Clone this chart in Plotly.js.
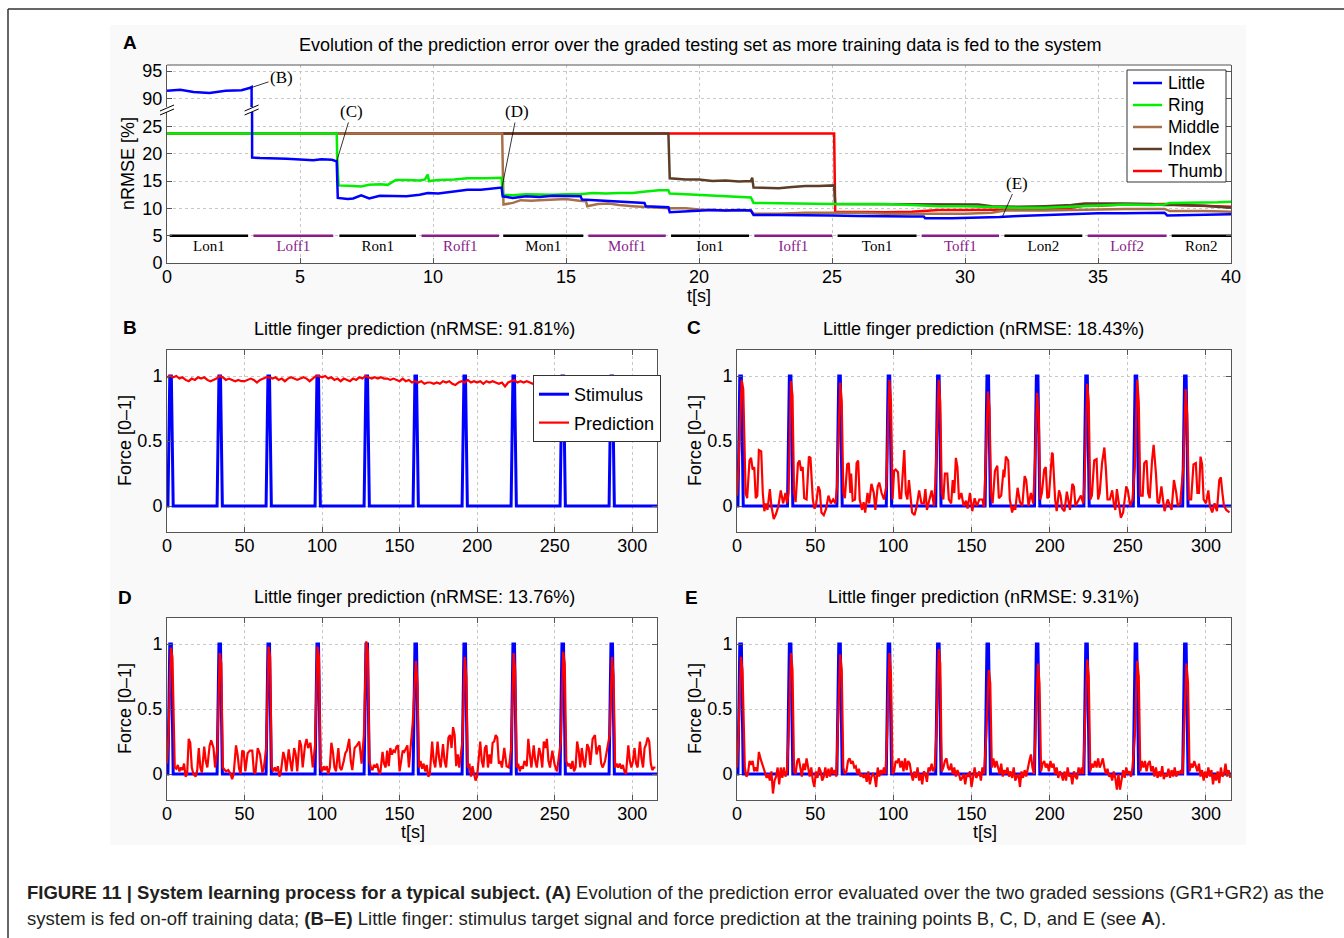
<!DOCTYPE html>
<html>
<head>
<meta charset="utf-8">
<script src="https://cdn.plot.ly/plotly-3.0.1.min.js"></script>
<style>html,body{margin:0;padding:0;background:#fff;}#chart{width:1344px;height:938px;}</style>
</head>
<body>
<div id="chart"></div>
<script>
// ---------- Panel A data: nRMSE [%] vs t[s] ----------
const littleA = [[0,91.4],[0.5,91.6],[1.0,91.2],[1.6,91.0],[2.2,91.4],[2.8,91.5],[3.1,91.9],[3.18,92.1],[3.2,19.3],[3.5,19.2],[4.5,19.1],[5.0,19.0],[5.5,18.8],[5.8,19.0],[6.2,18.9],[6.38,18.6],[6.42,11.9],[6.8,11.7],[7.0,11.8],[7.3,12.4],[7.6,11.8],[8.0,12.3],[8.5,12.2],[9.0,12.2],[9.5,12.5],[9.8,12.8],[10.2,12.7],[10.8,13.1],[11.3,13.4],[11.8,13.4],[12.3,13.6],[12.58,13.8],[12.62,12.2],[13,11.9],[13.5,12.2],[14,12.1],[14.5,12.3],[15,12.2],[15.55,12.2],[15.6,11.6],[16.5,11.4],[17.3,11.2],[17.95,11.0],[18.0,10.4],[18.5,10.3],[18.85,10.2],[18.9,9.3],[19.5,9.4],[20,9.6],[20.5,9.7],[21,9.6],[21.5,9.7],[21.95,9.6],[22.05,8.8],[23,8.8],[24,8.8],[25,8.7],[26,8.6],[27,8.5],[28,8.5],[28.45,8.5],[28.5,8.2],[29.5,8.2],[30.5,8.3],[31.3,8.4],[32,8.6],[33,8.8],[34,9.0],[35,9.1],[36,9.1],[37.5,9.2],[37.6,8.7],[38.5,8.8],[40,8.9]];
const ringA = [[0,23.7],[6.38,23.7],[6.40,19.0],[6.45,14.2],[7,14.1],[7.3,14.0],[7.6,14.3],[8.0,14.4],[8.3,14.3],[8.6,15.2],[9,15.2],[9.5,15.1],[9.7,15.3],[9.8,16.2],[9.85,15.0],[10.2,15.2],[10.8,15.3],[11.3,15.5],[12,15.5],[12.58,15.6],[12.62,12.5],[13,12.4],[13.5,12.6],[14,12.5],[14.5,12.5],[15,12.6],[15.5,12.6],[16,12.8],[16.5,12.7],[17,12.8],[17.5,12.8],[18,13.1],[18.5,13.3],[18.85,13.3],[18.9,12.7],[19.5,12.6],[20,12.5],[20.5,12.3],[21,12.2],[21.5,12.1],[21.95,12.0],[22.05,11.0],[23,10.9],[24,10.9],[25,10.8],[26,10.8],[27,10.8],[28,10.6],[29,10.4],[30,10.4],[31,10.2],[32,10.1],[33,10.1],[34,10.3],[35,10.6],[36,10.7],[37,10.6],[37.5,10.7],[37.7,11.0],[38.5,11.0],[39.5,11.1],[40,11.2]];
const middleA = [[0,23.7],[12.6,23.7],[12.65,10.7],[13.0,11.0],[13.3,11.5],[13.7,11.4],[14,11.5],[14.5,11.6],[15,11.7],[15.5,11.4],[15.75,11.3],[15.8,10.4],[16.2,10.8],[16.6,10.9],[17,10.6],[17.5,10.4],[18,10.2],[18.5,10.1],[18.9,10.0],[19.5,10.0],[20,9.8],[20.5,9.7],[21,9.6],[21.95,9.6],[22.05,9.0],[23,9.0],[24,9.2],[25,9.2],[26,9.2],[27,9.0],[28,9.0],[29,9.0],[30,9.0],[31,9.2],[31.5,9.6],[33,9.6],[34,9.7],[35,9.8],[36,9.9],[37.5,9.9],[37.7,9.5],[39,9.5],[40,9.4]];
const indexA = [[0,23.7],[18.85,23.7],[18.9,15.5],[19.5,15.3],[20,15.3],[20.5,15.0],[21,15.1],[21.5,14.9],[21.95,15.0],[22.0,15.6],[22.05,13.8],[22.5,13.7],[23,13.7],[23.5,13.9],[24,14.1],[24.5,14.1],[25.08,14.2],[25.12,10.8],[26,10.8],[27,10.7],[28,10.7],[28.5,10.7],[29,10.8],[30,10.8],[30.5,10.7],[31,10.4],[32,10.3],[33,10.4],[34,10.6],[34.5,10.9],[35,10.9],[35.5,11.0],[36,10.9],[37,10.8],[37.5,10.6],[38,10.6],[39,10.5],[40,10.1]];
const thumbA = [[0,23.7],[25.08,23.7],[25.12,9.4],[26,9.3],[27,9.3],[28,9.4],[28.5,9.6],[29,9.7],[30,9.7],[31,9.7],[32,9.8],[33,9.9],[34,10.1],[34.5,10.5],[35,10.5],[36,10.7],[37,10.8],[37.5,10.8],[38,10.6],[39,10.5],[40,10.3]];
const fingerNames = ['Little','Ring','Middle','Index','Thumb'];

// training session segments (start, end, label)
const segStart = [0.1, 3.25, 6.48, 9.57, 12.64, 15.84, 18.95, 22.08, 25.21, 28.37, 31.48, 34.61, 37.77];
const segEnd   = [3.05, 6.25, 9.36, 12.48, 15.65, 18.75, 21.88, 25.01, 28.18, 31.28, 34.41, 37.58, 40];
const segLabels = ['Lon1','Loff1','Ron1','Roff1','Mon1','Moff1','Ion1','Ioff1','Ton1','Toff1','Lon2','Loff2','Ron2'];
const segLevel = 5;
const segLabelLevel = 2.9;

// training points marked on panel A: [label, t, nRMSE, axis]
const markers = [['(B)',3.18,92.0,'y2'],['(C)',6.38,18.6,'y'],['(D)',12.6,14.0,'y'],['(E)',31.4,8.4,'y']];

// ---------- Panels B–E data: Force [0–1] vs t[s] ----------
const stimulus = [[0,0],[0.6,0],[1.8,1],[2.8,1],[4.0,0],[32.3,0],[33.5,1],[34.5,1],[35.7,0],[63.9,0],[65.1,1],[66.1,1],[67.3,0],[95.5,0],[96.7,1],[97.7,1],[98.9,0],[127.1,0],[128.3,1],[129.3,1],[130.5,0],[158.7,0],[159.9,1],[160.9,1],[162.1,0],[190.3,0],[191.5,1],[192.5,1],[193.7,0],[221.9,0],[223.1,1],[224.1,1],[225.3,0],[253.5,0],[254.7,1],[255.7,1],[256.9,0],[285.1,0],[286.3,1],[287.3,1],[288.5,0],[316,0]];

const predB = [[0,0.99],[2,1.0],[4,0.99],[6,1.0],[8,0.98],[10,0.99],[12,0.97],[14,0.96],[16,0.98],[18,0.97],[20,0.99],[22,0.98],[24,0.99],[26,0.97],[28,0.96],[30,0.97],[32,0.98],[34,1.0],[36,0.99],[38,0.97],[40,0.98],[42,0.97],[44,0.96],[46,0.97],[48,0.96],[50,0.96],[52,0.97],[54,0.98],[56,0.97],[58,0.95],[60,0.97],[62,0.98],[64,0.99],[66,0.99],[68,0.98],[70,0.99],[72,0.97],[74,0.98],[76,0.96],[78,0.98],[80,0.99],[82,0.98],[84,0.97],[86,0.98],[88,0.99],[90,0.98],[92,0.96],[94,0.98],[96,1.0],[98,1.0],[100,0.99],[102,1.0],[104,0.98],[106,0.99],[108,0.97],[110,0.98],[112,0.96],[114,0.98],[116,0.97],[118,0.96],[120,0.98],[122,0.97],[124,0.99],[126,0.98],[128,1.0],[130,0.99],[132,0.98],[134,0.99],[136,0.98],[138,0.99],[140,0.98],[142,0.98],[144,0.97],[146,0.98],[148,0.97],[150,0.96],[152,0.98],[154,0.96],[156,0.97],[158,0.95],[160,0.96],[162,0.95],[164,0.96],[166,0.94],[168,0.95],[170,0.95],[172,0.94],[174,0.95],[176,0.94],[178,0.96],[180,0.95],[182,0.96],[184,0.94],[186,0.93],[188,0.95],[190,0.96],[192,0.95],[194,0.97],[196,0.95],[198,0.96],[200,0.95],[202,0.96],[204,0.94],[206,0.96],[208,0.95],[210,0.96],[212,0.95],[214,0.94],[216,0.95],[218,0.92],[220,0.95],[222,0.96],[224,0.97],[226,0.95],[228,0.96],[230,0.95],[232,0.96],[234,0.95],[236,0.94],[240,0.95],[250,0.94],[260,0.95],[270,0.94],[280,0.95],[290,0.94],[300,0.95],[310,0.94],[316,0.95]];

const predC = [[0,0.08],[1,0.3],[3,0.97],[4,0.9],[5.5,0.1],[6.5,0.06],[8,0.35],[9,0.37],[10,0.28],[11,0.3],[12,0.06],[13,0.08],[14,0.43],[15.5,0.42],[16.5,0.1],[17.5,-0.04],[18.5,0.02],[19.5,-0.03],[21,0.13],[22,0.0],[23.5,-0.1],[25,-0.06],[26.5,0.0],[28,0.12],[29.5,0.02],[31,0.1],[32,0.02],
[33,0.1],[34.5,0.96],[35.5,0.85],[36.5,0.1],[37.5,0.03],[39,0.33],[40,0.35],[41,0.27],[42,0.3],[43,0.06],[44.5,0.05],[46,0.38],[47,0.37],[48.5,0.05],[49.5,-0.02],[50.5,0.0],[52,0.15],[53,0.12],[54,-0.05],[55.5,-0.07],[57,-0.02],[58.5,0.08],[60,0.02],[61.5,0.05],[63,0.02],
[64,0.15],[66,0.95],[67,0.8],[68,0.1],[69,0.06],[70.5,0.32],[71.5,0.33],[72.5,0.1],[73,0.25],[74,0.04],[75.5,0.05],[76.5,0.33],[77.5,0.35],[78.5,0.05],[80,-0.03],[81,0.03],[82,-0.05],[83.5,0.1],[84.5,0.02],[86,0.17],[87.5,0.1],[88.5,-0.03],[90,0.15],[91,0.18],[92.5,0.1],[94,0.05],
[95.5,0.15],[97.5,0.97],[98.5,0.8],[99.5,0.05],[100.5,0.27],[101.5,0.28],[103,0.26],[104,0.06],[105,0.06],[106.5,0.38],[107,0.43],[108,0.1],[109,0.05],[110,0.2],[111,0.08],[112,-0.05],[113.5,-0.07],[115,0.0],[116.5,0.12],[118,0.02],[119.5,0.02],[120.5,0.13],[121.5,-0.03],[123,0.05],[124.5,0.12],[126,0.0],
[127,0.2],[129,0.97],[130,0.8],[131,0.1],[132,0.05],[133,0.25],[134.5,0.25],[135.5,0.05],[137,0.02],[138,0.2],[139,0.1],[140,0.37],[141,0.3],[142,0.05],[143.5,0.1],[145,0.0],[146.5,0.04],[147.5,-0.02],[149,0.1],[150.5,-0.04],[152,0.06],[153.5,0.0],[155,0.05],[157,0.05],[158,-0.01],
[159,0.3],[160.5,0.88],[161.5,0.75],[162.5,0.1],[163.5,0.02],[165,0.27],[166.5,0.31],[167.5,0.06],[169,0.08],[170.5,0.28],[171,0.22],[172,0.38],[173.5,0.35],[174.5,0.05],[176,-0.05],[177,0.0],[178,-0.03],[179.5,0.14],[181,0.03],[182.5,0.0],[184,0.23],[185,0.2],[186.5,0.0],[188,0.1],[189.5,0.02],
[190.5,0.3],[192,0.87],[193,0.7],[194,0.05],[195,0.1],[196.5,0.28],[197.5,0.3],[198.5,0.06],[199.5,0.07],[201.5,0.41],[202,0.4],[203.5,0.05],[204.5,-0.04],[206,0.12],[207,0.08],[208,-0.02],[209.5,-0.04],[211,0.11],[212,0.02],[213,-0.03],[214.5,0.17],[215.5,0.15],[216.5,0.0],[218.5,0.05],[220,0.08],[221.5,0.02],
[222.5,0.25],[224,0.94],[225,0.8],[226,0.05],[227,0.08],[228.5,0.35],[230,0.36],[231,0.05],[232,0.1],[233.5,0.33],[235,0.45],[236,0.28],[237,0.05],[238.5,0.05],[240,0.12],[241,0.02],[242,-0.03],[243,0.13],[244.5,0.0],[245.5,-0.09],[247,-0.05],[249,0.15],[250,0.12],[251.5,0.0],[253,0.05],
[254.5,0.3],[256,0.97],[257,0.8],[258,0.08],[259.5,0.08],[260.5,0.33],[262,0.35],[263,0.1],[264,0.06],[265.5,0.35],[266.5,0.47],[268,0.25],[269,0.03],[270,0.02],[271.5,0.15],[272.5,0.05],[273.5,-0.04],[275.5,0.05],[277,0.0],[278,-0.03],[279.5,0.2],[281,0.1],[282,0.0],[283.5,0.02],
[285.5,0.3],[287,0.9],[288,0.7],[289,0.05],[290.5,0.05],[292,0.32],[293.5,0.33],[294.5,0.1],[295.5,0.1],[296.5,0.38],[297.5,0.32],[298.5,0.05],[300,0.02],[301.5,0.12],[302.5,0.0],[304,-0.05],[305.5,0.02],[307,-0.04],[308.5,0.2],[309.5,0.22],[310.5,0.1],[311.5,0.0],[313,-0.03],[315,-0.05]];

const predD = [[0,0.08],[1,0.3],[2.5,0.97],[3.5,0.9],[5,0.05],[6,0.04],[7,0.07],[8,0.02],[9,0.05],[10,0.03],[11,0.08],[12,-0.02],[13,0.0],[14,0.27],[15,0.24],[16,0.05],[17,0.0],[18.5,-0.02],[19.5,0.03],[20.5,0.2],[21.5,0.05],[22.5,0.01],[24,0.21],[25,0.1],[26,0.05],[27.5,0.22],[28.5,0.26],[30,0.2],[31,0.05],
[32.5,0.2],[34,0.93],[35,0.85],[36,0.05],[37,0.03],[38,0.02],[39.5,0.03],[41,0.0],[42,-0.04],[43,0.0],[44.5,0.22],[45.5,0.15],[46.5,0.04],[47.5,0.0],[48.5,0.18],[49.5,0.17],[50.5,0.02],[52,0.16],[53.5,0.18],[55,0.18],[56,0.02],[57,0.0],[58.5,0.2],[60,0.15],[61.5,0.01],[62.5,0.05],
[64,0.2],[65.5,0.98],[66.5,0.9],[67.5,0.05],[68.5,0.02],[69.5,0.05],[70.5,0.02],[71.5,0.06],[72.5,-0.02],[73.5,0.02],[75,0.17],[76,0.12],[77,0.02],[78.5,0.19],[79.5,0.1],[80.5,0.02],[82,0.2],[83,0.15],[84,0.02],[85.5,0.26],[86.5,0.22],[87.5,0.05],[89,0.22],[90,0.27],[91,0.2],[92.5,0.24],[94,0.05],
[95.5,0.22],[97,0.98],[98,0.9],[99,0.05],[100,0.02],[101,0.06],[102,0.03],[103,0.06],[104,0.0],[105,0.05],[106,0.24],[107,0.17],[108,0.05],[109,0.02],[110.5,0.2],[111.5,0.05],[112.5,0.03],[114,0.1],[115,0.16],[116,0.18],[117.5,0.27],[118.5,0.1],[119.5,0.03],[121,0.2],[122.5,0.22],[124,0.25],[125.5,0.08],
[127,0.3],[128.5,1.02],[129.5,0.95],[130.5,0.1],[131.5,0.05],[132.5,0.03],[133.5,0.07],[134.5,0.05],[135.5,0.08],[136.5,0.02],[137.5,0.0],[139,0.17],[140,0.08],[141,0.05],[142,0.18],[143,0.06],[144,0.2],[145,0.15],[146,0.18],[147,0.17],[148,0.21],[149,0.22],[150,0.02],[151,0.1],[152,0.18],[153,0.17],[154,0.2],[155,0.22],[156,0.05],[157,0.2],
[158.5,0.4],[160.5,0.87],[161.5,0.7],[162.5,0.05],[163.5,0.1],[164.5,0.04],[165.5,0.08],[166.5,0.02],[167.5,0.07],[168.5,-0.02],[169.5,0.0],[171,0.25],[172,0.1],[173,0.05],[174.5,0.25],[175.5,0.12],[176.5,0.05],[178,0.23],[179,0.1],[180,0.05],[181.5,0.28],[182.5,0.3],[183.5,0.2],[184.5,0.36],[185.5,0.3],[186.5,0.06],[187.5,0.15],[188.5,0.05],
[190.5,0.25],[192,0.9],[193,0.75],[194,0.05],[195,0.08],[196,-0.02],[197,0.06],[198,0.0],[199,-0.05],[200,-0.02],[201,0.1],[202,0.25],[203,0.1],[204,0.05],[205,0.2],[206,0.22],[207,0.05],[208,0.15],[209,0.08],[210,0.24],[211,0.25],[212,0.3],[213,0.28],[214,0.08],[215,0.1],[216,0.05],[217.5,0.2],[219,0.06],[220.5,0.05],
[222,0.2],[223.5,0.93],[224.5,0.8],[225.5,0.05],[226.5,0.08],[227.5,0.02],[228.5,0.06],[229.5,0.04],[230.5,0.1],[232,0.06],[233,0.27],[234,0.15],[235,0.05],[236.5,0.22],[237.5,0.1],[238.5,0.05],[240,0.2],[241,0.15],[242,0.05],[243,0.25],[244,0.2],[245,0.27],[246,0.1],[247,0.05],[248.5,0.18],[250,0.07],[251.5,0.02],
[254,0.25],[255.5,0.94],[256.5,0.85],[257.5,0.1],[258.5,0.06],[259.5,0.08],[260.5,0.04],[261.5,0.1],[262.5,0.02],[263.5,0.05],[264.5,0.25],[265.5,0.18],[266.5,0.05],[267.5,0.2],[268.5,0.1],[269.5,0.05],[271,0.23],[272,0.2],[273,0.07],[274.5,0.27],[276,0.3],[277,0.15],[278,0.2],[279,0.22],[280,0.08],[281,0.05],[282.5,0.1],
[285.5,0.3],[287,0.9],[288,0.75],[289,0.05],[290,0.08],[291,0.05],[292,0.08],[293,0.04],[294,0.07],[295,0.02],[296,0.0],[297.5,0.22],[298.5,0.1],[299.5,0.05],[300.5,0.1],[301.5,0.2],[302.5,0.08],[303.5,0.05],[305,0.25],[306,0.12],[307,0.05],[308,0.2],[309,0.23],[310,0.28],[311,0.25],[312,0.08],[313,0.03],[314,0.05],[315,0.05]];

const predE = [[0,0.05],[1,0.3],[2.5,0.9],[3.5,0.8],[5,0.05],[6,-0.02],[7,0.0],[8,0.1],[9,0.08],[10,0.1],[11,0.02],[12,0.05],[13,0.02],[14,0.17],[15,0.12],[16,0.08],[17,0.05],[18,0.0],[19,-0.03],[20,0.0],[21,-0.05],[22,0.02],[23,-0.15],[24,-0.05],[25,-0.02],[26,0.05],[27,-0.08],[28,0.05],[29,-0.03],[30,0.05],[31,-0.02],[32,0.02],
[33,0.3],[34.5,0.93],[35.5,0.8],[36.5,0.02],[37.5,0.0],[38.5,0.1],[39.5,0.12],[40.5,0.05],[41.5,-0.02],[42.5,0.08],[43.5,0.03],[44.5,0.12],[45.5,0.04],[46.5,-0.02],[47.5,0.05],[48.5,-0.05],[49.5,-0.1],[50.5,0.02],[51.5,-0.03],[52.5,0.05],[53.5,0.02],[54.5,-0.05],[55.5,-0.02],[56.5,0.05],[57.5,-0.03],[58.5,0.04],[59.5,-0.02],[60.5,0.05],[61.5,0.0],[62.5,0.03],[63.5,-0.02],
[64.5,0.3],[66,0.92],[67,0.8],[68,0.05],[69,0.0],[70,0.02],[71,0.1],[72,0.12],[73,0.08],[74,0.1],[75,0.05],[76,0.06],[77,0.0],[78,0.04],[79,-0.02],[80,0.0],[81,-0.03],[82,0.0],[83,-0.06],[84,0.02],[85,-0.08],[86,-0.02],[87,0.0],[88,-0.02],[89,-0.1],[90,0.05],[91,-0.02],[92,0.03],[93,0.0],[94,0.05],[95,0.0],
[96,0.3],[97.5,0.93],[98.5,0.75],[99.5,0.0],[100.5,0.02],[101.5,0.1],[102.5,0.09],[103.5,0.12],[104.5,0.05],[105.5,0.1],[106.5,0.02],[107.5,0.12],[108.5,0.03],[109.5,0.1],[110.5,0.08],[111.5,0.0],[112.5,-0.05],[113.5,0.02],[114.5,-0.03],[115.5,0.05],[116.5,-0.05],[117.5,0.0],[118.5,-0.08],[119.5,0.02],[120.5,0.0],[121.5,-0.06],[122.5,0.05],[123.5,0.02],[124.5,0.08],[125.5,0.02],[126.5,0.05],
[127.5,0.3],[129,0.96],[130,0.85],[131,0.02],[132,0.05],[133,0.1],[134,0.12],[135,0.05],[136,0.03],[137,0.08],[138,0.0],[139,0.05],[140,-0.02],[141,0.03],[142,0.0],[143,-0.05],[144,-0.03],[145,0.0],[146,-0.08],[147,0.0],[148,-0.02],[149,0.02],[150,-0.1],[151,-0.02],[152,0.05],[153,-0.03],[154,0.0],[155,0.02],[156,-0.05],[157,0.05],[158,0.0],
[159.5,0.3],[161,0.8],[162,0.7],[163,0.05],[164,0.12],[165,0.05],[166,0.1],[167,0.05],[168,0.0],[169,0.08],[170,-0.02],[171,0.03],[172,0.0],[173,0.05],[174,-0.02],[175,0.02],[176,-0.03],[177,0.05],[178,-0.05],[179,-0.02],[180,0.0],[181,-0.1],[182,0.02],[183,-0.03],[184,0.03],[185,-0.02],[186,0.05],[187,0.1],[188,0.15],[189,0.05],[190,0.0],
[191,0.3],[192.5,0.85],[193.5,0.7],[194.5,0.02],[195.5,0.08],[196.5,0.1],[197.5,0.05],[198.5,0.08],[199.5,0.02],[200.5,0.1],[201.5,0.05],[202.5,0.08],[203.5,0.0],[204.5,0.05],[205.5,-0.03],[206.5,0.02],[207.5,0.0],[208.5,-0.05],[209.5,0.02],[210.5,-0.05],[211.5,0.05],[212.5,-0.02],[213.5,0.0],[214.5,-0.08],[215.5,0.02],[216.5,-0.02],[217.5,-0.04],[218.5,0.05],[219.5,0.0],[220.5,0.05],[221.5,0.0],
[222.5,0.3],[224,0.88],[225,0.75],[226,0.02],[227,0.08],[228,0.05],[229,0.1],[230,0.05],[231,0.12],[232,0.05],[233,0.08],[234,0.12],[235,0.05],[236,0.0],[237,0.04],[238,-0.02],[239,0.0],[240,-0.05],[241,0.02],[242,-0.03],[243,-0.12],[244,0.0],[245,-0.12],[246,-0.05],[247,0.03],[248,-0.03],[249,0.05],[250,0.0],[251,0.02],[252,-0.02],[253,0.05],
[254.5,0.3],[256,0.87],[257,0.75],[258,0.02],[259,0.1],[260,0.05],[261,0.1],[262,0.02],[263,0.08],[264,0.1],[265,0.02],[266,0.06],[267,-0.02],[268,0.05],[269,-0.03],[270,0.02],[271,-0.02],[272,0.06],[273,-0.04],[274,0.0],[275,-0.02],[276,0.04],[277,-0.03],[278,0.03],[279,-0.02],[280,0.05],[281,-0.02],[282,0.02],[283,0.0],[284,0.03],[285,0.0],
[286,0.3],[287.5,0.85],[288.5,0.7],[289.5,0.02],[290.5,0.08],[291.5,0.05],[292.5,0.1],[293.5,0.05],[294.5,0.02],[295.5,0.08],[296.5,-0.02],[297.5,0.03],[298.5,-0.05],[299.5,0.02],[300.5,-0.03],[301.5,0.05],[302.5,-0.02],[303.5,0.03],[304.5,-0.08],[305.5,0.0],[306.5,-0.05],[307.5,0.02],[308.5,-0.07],[309.5,0.05],[310.5,-0.02],[311.5,0.0],[312.5,0.08],[313.5,-0.02],[314.5,0.03],[315.5,-0.03]];

const panelTitles = ['Little finger prediction (nRMSE: 91.81%)','Little finger prediction (nRMSE: 18.43%)','Little finger prediction (nRMSE: 13.76%)','Little finger prediction (nRMSE: 9.31%)'];
const titleA = 'Evolution of the prediction error over the graded testing set as more training data is fed to the system';

// ---------- styling & layout helpers ----------
const W = 1344, H = 938;
const px = v => v / W;
const py = v => 1 - v / H;
const SANS = 'Liberation Sans, Arial, Helvetica, sans-serif';
const SERIF = 'Liberation Serif, Times New Roman, serif';
const FINGER_COLORS = { Little: '#0000FF', Ring: '#00EE00', Middle: '#A8704A', Index: '#5C3D28', Thumb: '#FF0000' };
const C_PURPLE = '#8B1A8B';
const xs = a => a.map(p => p[0]);
const ys = a => a.map(p => p[1]);

const AX = { left: px(167), right: px(1231), bottom: py(263), junction: py(110), top: py(65) };
const BX = [px(167), px(657)], CX = [px(737), px(1231)];
const BCY = [py(532), py(350)], DEY = [py(800), py(618)];

const FS = 18;
const tickFont = { family: SANS, size: FS, color: '#000' };
const gridStyle = { showgrid: true, gridcolor: '#c8c8c8', griddash: 'dot', gridwidth: 1 };
const axBase = Object.assign({ ticks: 'inside', ticklen: 5, tickcolor: '#555', showline: true, linecolor: '#555', linewidth: 1, zeroline: false, tickfont: tickFont, fixedrange: true }, gridStyle);

// ---------- traces ----------
const traces = [];
const seriesA = { Little: littleA, Ring: ringA, Middle: middleA, Index: indexA, Thumb: thumbA };
const lineA = (name, yax) => ({ type: 'scatter', mode: 'lines', name: name, x: xs(seriesA[name]), y: ys(seriesA[name]), xaxis: 'x', yaxis: yax, line: { color: FINGER_COLORS[name], width: 2.5 }, showlegend: false, hoverinfo: 'skip' });
fingerNames.slice().reverse().forEach(n => traces.push(lineA(n, 'y')));
traces.push(lineA('Little', 'y2'));

// session bars
const isOff = l => l.indexOf('off') >= 0;
function segTrace(off) {
  const x = [], y = [];
  segLabels.forEach((l, i) => { if (isOff(l) === off) { x.push(segStart[i], segEnd[i], null); y.push(segLevel, segLevel, null); } });
  return { type: 'scatter', mode: 'lines', x: x, y: y, xaxis: 'x', yaxis: 'y', line: { color: off ? C_PURPLE : '#000', width: 2.5 }, showlegend: false, hoverinfo: 'skip' };
}
traces.push(segTrace(false));
traces.push(segTrace(true));
traces.push({ type: 'scatter', mode: 'text', x: segLabels.map((l, i) => (segStart[i] + segEnd[i]) / 2), y: segLabels.map(() => segLabelLevel), text: segLabels,
  textfont: { family: SERIF, size: 15, color: segLabels.map(l => isOff(l) ? C_PURPLE : '#000') }, xaxis: 'x', yaxis: 'y', showlegend: false, cliponaxis: false, hoverinfo: 'skip' });

// panels B–E
const panels = [
  { xa: 'x2', ya: 'y3', pred: predB, legend: true },
  { xa: 'x3', ya: 'y4', pred: predC },
  { xa: 'x4', ya: 'y5', pred: predD },
  { xa: 'x5', ya: 'y6', pred: predE }
];
panels.forEach(p => {
  traces.push({ type: 'scatter', mode: 'lines', name: 'Stimulus', x: xs(stimulus), y: ys(stimulus), xaxis: p.xa, yaxis: p.ya, line: { color: FINGER_COLORS.Little, width: 3 }, showlegend: !!p.legend, legend: 'legend', legendgroup: 'stim', hoverinfo: 'skip' });
  traces.push({ type: 'scatter', mode: 'lines', name: 'Prediction', x: xs(p.pred), y: ys(p.pred), xaxis: p.xa, yaxis: p.ya, line: { color: FINGER_COLORS.Thumb, width: 2.2 }, showlegend: !!p.legend, legend: 'legend', legendgroup: 'pred', hoverinfo: 'skip' });
});

// ---------- axes ----------
const layout = {
  width: W, height: H, margin: { l: 0, r: 0, t: 0, b: 0 },
  paper_bgcolor: '#fff', plot_bgcolor: '#fff', font: { family: SANS, size: FS, color: '#000' },
  xaxis: Object.assign({}, axBase, { domain: [AX.left, AX.right], anchor: 'y', range: [0, 40], tickvals: [0,5,10,15,20,25,30,35,40], ticklabelstandoff: -3 }),
  yaxis: Object.assign({}, axBase, { domain: [AX.bottom, AX.junction], anchor: 'x', range: [0, 28.0], tickvals: [0,5,10,15,20,25], mirror: 'ticks' }),
  yaxis2: Object.assign({}, axBase, { domain: [AX.junction, AX.top], anchor: 'x', range: [87.9, 96.1], tickvals: [90,95], mirror: 'ticks' }),
  showlegend: true,
  legend: { x: px(533), y: py(375), xanchor: 'left', yanchor: 'top', traceorder: 'grouped', tracegroupgap: 2, bgcolor: '#fff', bordercolor: '#333', borderwidth: 1, font: { family: SANS, size: 18, color: '#000' }, itemwidth: 30 },
  shapes: [], annotations: []
};
const doms = [[BX, BCY], [CX, BCY], [BX, DEY], [CX, DEY]];
panels.forEach((p, i) => {
  const xk = 'xaxis' + p.xa.slice(1), yk = 'yaxis' + p.ya.slice(1);
  layout[xk] = Object.assign({}, axBase, { domain: doms[i][0], anchor: p.ya, range: [0, 316], tickvals: [0,50,100,150,200,250,300], mirror: 'ticks', ticklabelstandoff: -3 });
  layout[yk] = Object.assign({}, axBase, { domain: doms[i][1], anchor: p.xa, range: [-0.2, 1.2], tickvals: [0, 0.5, 1], ticktext: ['0','0.5','1'], mirror: 'ticks' });
});

// ---------- shapes ----------
const S = layout.shapes;
S.push({ type: 'rect', xref: 'paper', yref: 'paper', x0: px(110), x1: px(1246), y0: py(845), y1: py(25), fillcolor: '#f9f9f9', line: { width: 0 }, layer: 'below' });
S.push({ type: 'rect', xref: 'paper', yref: 'paper', x0: AX.left, x1: AX.right, y0: AX.bottom, y1: AX.top, fillcolor: '#fff', line: { width: 0 }, layer: 'below' });
doms.forEach(d => S.push({ type: 'rect', xref: 'paper', yref: 'paper', x0: d[0][0], x1: d[0][1], y0: d[1][0], y1: d[1][1], fillcolor: '#fff', line: { width: 0 }, layer: 'below' }));
S.push({ type: 'line', xref: 'paper', yref: 'paper', x0: AX.left, x1: AX.right, y0: AX.top, y1: AX.top, line: { color: '#555', width: 1 } });
S.push({ type: 'line', xref: 'paper', yref: 'paper', x0: px(8), x1: 1, y0: py(9), y1: py(9), line: { color: '#333', width: 1.5 } });
S.push({ type: 'line', xref: 'paper', yref: 'paper', x0: px(8), x1: px(8), y0: 0, y1: py(9), line: { color: '#333', width: 1.5 } });
// axis-break symbols
const breakIdx = littleA.findIndex((p, i) => i > 0 && littleA[i - 1][1] > 50 && p[1] < 50);
const breakT = littleA[breakIdx - 1][0];
function breakMark(xref, xanchor) {
  const base = { xref: xref, yref: 'paper', xsizemode: 'pixel', ysizemode: 'pixel', xanchor: xanchor, yanchor: AX.junction };
  S.push(Object.assign({ type: 'rect', x0: -3, x1: 3, y0: -2, y1: 3, fillcolor: '#fff', line: { width: 0 } }, base));
  S.push(Object.assign({ type: 'line', x0: -7, x1: 7, y0: -5, y1: 1, line: { color: '#000', width: 1 } }, base));
  S.push(Object.assign({ type: 'line', x0: -7, x1: 7, y0: -1, y1: 5, line: { color: '#000', width: 1 } }, base));
}
breakMark('paper', AX.left);
breakMark('x', breakT);

// ---------- panel A legend box (rows built from fingerNames / FINGER_COLORS) ----------
const legA = { x0: 1127, x1: 1226, y0: 70, y1: 182, row0: 83, rowH: 22 };
S.push({ type: 'rect', xref: 'paper', yref: 'paper', x0: px(legA.x0), x1: px(legA.x1), y0: py(legA.y1), y1: py(legA.y0), fillcolor: '#fff', line: { color: '#333', width: 1 } });
fingerNames.forEach((n, i) => {
  const yy = py(legA.row0 + i * legA.rowH);
  S.push({ type: 'line', xref: 'paper', yref: 'paper', x0: px(1133), x1: px(1162), y0: yy, y1: yy, line: { color: FINGER_COLORS[n], width: 2.5 } });
});

// ---------- annotations ----------
const A = layout.annotations;
const txt = (x, y, text, opts) => A.push(Object.assign({ xref: 'paper', yref: 'paper', x: px(x), y: py(y), text: text, showarrow: false, xanchor: 'center', yanchor: 'middle', font: { family: SANS, size: FS, color: '#000' } }, opts || {}));
fingerNames.forEach((n, i) => txt(1166, legA.row0 + i * legA.rowH, n, { xanchor: 'left', font: { family: SANS, size: 17.5, color: '#000' } }));
[['A',130,42],['B',130,328],['C',694,328],['D',125,597],['E',692,597]].forEach(l => txt(l[1], l[2], '<b>' + l[0] + '</b>', { font: { family: SANS, size: 19, color: '#000' } }));
txt(700, 45, titleA);
txt(414, 329, panelTitles[0]);
txt(984, 329, panelTitles[1]);
txt(414, 597, panelTitles[2]);
txt(984, 597, panelTitles[3]);
txt(128, 164, 'nRMSE [%]', { textangle: -90 });
txt(699, 296, 't[s]');
[[125,441],[695,441],[125,709],[695,709]].forEach(p => txt(p[0], p[1], 'Force [0–1]', { textangle: -90 }));
txt(413, 832, 't[s]');
txt(985, 832, 't[s]');
const markOffsets = { '(B)': [30, -10], '(C)': [15, -50], '(D)': [15, -75], '(E)': [15, -34] };
markers.forEach(m => A.push({ xref: 'x', yref: m[3], x: m[1], y: m[2], text: m[0], showarrow: true, arrowhead: 0, arrowwidth: 0.8, arrowcolor: '#000', ax: markOffsets[m[0]][0], ay: markOffsets[m[0]][1], standoff: 0, font: { family: SERIF, size: 17, color: '#000' } }));
const capFont = { family: SANS, size: 18.5, color: '#231f20' };
txt(25, 892, '<b>FIGURE 11 | System learning process for a typical subject. (A)</b> Evolution of the prediction error evaluated over the two graded sessions (GR1+GR2) as the', { xanchor: 'left', font: capFont });
txt(25, 918, 'system is fed on-off training data; <b>(B–E)</b> Little finger: stimulus target signal and force prediction at the training points B, C, D, and E (see <b>A</b>).', { xanchor: 'left', font: capFont });

Plotly.newPlot('chart', traces, layout, { staticPlot: true, displayModeBar: false });
</script>
</body>
</html>
